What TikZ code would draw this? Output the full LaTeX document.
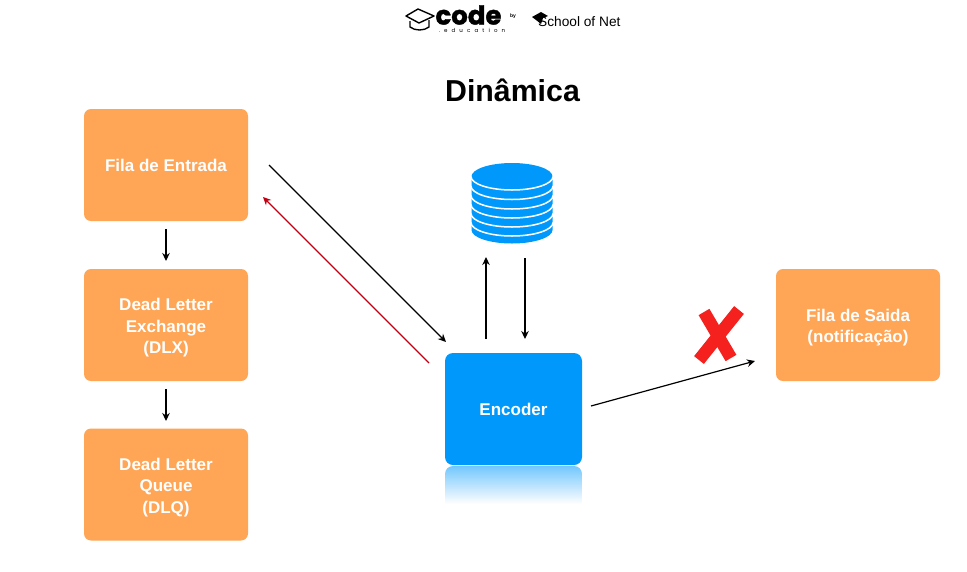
\documentclass[tikz,border=0pt]{standalone}
\usepackage{fontspec}
\setmainfont{Liberation Sans}
\newfontfamily\logofont[BoldFeatures={FakeBold=1.5}]{Poppins}
\newfontfamily\edufont[LetterSpace=75]{Poppins}
\usetikzlibrary{arrows.meta}
\definecolor{boxorange}{HTML}{FFA556}
\definecolor{boxblue}{HTML}{0099FB}
\definecolor{xred}{HTML}{F4211E}
\definecolor{arrowred}{HTML}{C00012}
\newcommand\lowfirst{\rule{0pt}{18pt}}
\tikzset{
  x=1pt,y=-1pt,
  queue/.style={fill=boxorange,rounded corners=7pt,minimum width=164pt,minimum height=112pt,inner sep=0pt,align=center,text=white,font=\fontsize{17}{21.5}\selectfont\bfseries},
  encoderbox/.style={fill=boxblue,rounded corners=8pt,minimum width=137pt,minimum height=112pt,inner sep=0pt,align=center,text=white,font=\fontsize{17}{21}\selectfont\bfseries},
  flow/.style={line width=1.2pt,black,-{Stealth[length=8pt,width=7.5pt]}},
  back/.style={flow,draw=arrowred,-{Stealth[length=8pt,width=7.5pt,fill=arrowred]}},
  diskline/.style={draw=white,line width=1.5pt},
  cross/.style={draw=xred,line width=12.5pt},
  caplogo/.style={draw=black,line width=1.4pt,line join=round}
}
\begin{document}
\begin{tikzpicture}
\useasboundingbox (0,0) rectangle (967,571);
\fill[white] (0,0) rectangle (967,571);

% logos
\draw[caplogo] (406,16) -- (418,9) -- (434,16) -- (419,23) -- cycle;
\draw[caplogo] (410,21) -- (410,27) .. controls (415,31) and (424,31) .. (429,27) -- (429,20);
\node[inner sep=0pt,font=\logofont\fontsize{26}{26}\selectfont\bfseries] (codeword) at (468.5,15) {code};
\node[inner sep=0pt,font=\edufont\fontsize{5.5}{6}\selectfont] (eduword) at (472,30) {.education};
\node[inner sep=0pt,font=\fontsize{5}{6}\selectfont\bfseries] (byword) at (513,16) {by};
\fill[black] (532,17) -- (541,12) -- (548,16) -- (543,18) -- (541,24) -- (536,20) -- cycle;
\node[inner sep=0pt,anchor=west,font=\fontsize{13.7}{14}\selectfont] (sonword) at (538,22) {School of Net};

% title
\node[inner sep=0pt,font=\fontsize{30.3}{32}\selectfont\bfseries] (title) at (512.5,90) {Dinâmica};

% boxes
\node[queue] (entrada) at (166,165) {\rule{0pt}{14pt}Fila de Entrada};
\node[queue] (dlx) at (166,325) {\lowfirst Dead Letter\\Exchange\\(DLX)};
\node[queue] (dlq) at (166,484.5) {\lowfirst Dead Letter\\Queue\\(DLQ)};
\node[queue] (saida) at (858,325) {\lowfirst Fila de Saida\\(notificação)};

% encoder reflection
\begin{scope}
\clip[rounded corners=8pt] (445,466) rectangle (582,520);
\shade[top color=boxblue!55,bottom color=white,shading angle=0] (445,466) rectangle (582,504);
\end{scope}
\node[encoderbox] (encoder) at (513.5,409) {Encoder};

% database
\fill[boxblue] (471.5,176.5) -- (552.5,176.5) -- (552.5,230) arc [start angle=0,end angle=180,x radius=40.5,y radius=13.5] -- cycle;
\fill[boxblue] (512,176.5) ellipse [x radius=40.5pt,y radius=13.5pt];
\foreach \cy in {176.5,186,195.5,204.5,213.5,222.5} {
  \draw[diskline] (471,\cy) arc [start angle=180,end angle=0,x radius=41,y radius=13.5];
}
\coordinate (dbtop) at (512,176);

% cross
\coordinate (crossAa) at (704,312);
\coordinate (crossAb) at (731,358);
\coordinate (crossBa) at (739,310);
\coordinate (crossBb) at (699,360);
\draw[cross] (crossAa) -- (crossAb);
\draw[cross] (crossBa) -- (crossBb);

% connector ends
\coordinate (a1) at (269,165);
\coordinate (a2) at (446,342);
\coordinate (b1) at (429,363);
\coordinate (b2) at (263,197);
\coordinate (c1) at (486,339);
\coordinate (c2) at (486,257);
\coordinate (d1) at (525,258);
\coordinate (d2) at (525,339);
\coordinate (e1) at (591,406);
\coordinate (e2) at (755,361);
\coordinate (f1) at (166,229);
\coordinate (f2) at (166,261);
\coordinate (g1) at (166,389);
\coordinate (g2) at (166,421);

\draw[flow] (a1) -- (a2);
\draw[back] (b1) -- (b2);
\draw[flow] (c1) -- (c2);
\draw[flow] (d1) -- (d2);
\draw[flow] (e1) -- (e2);
\draw[flow] (f1) -- (f2);
\draw[flow] (g1) -- (g2);
\end{tikzpicture}
\end{document}
